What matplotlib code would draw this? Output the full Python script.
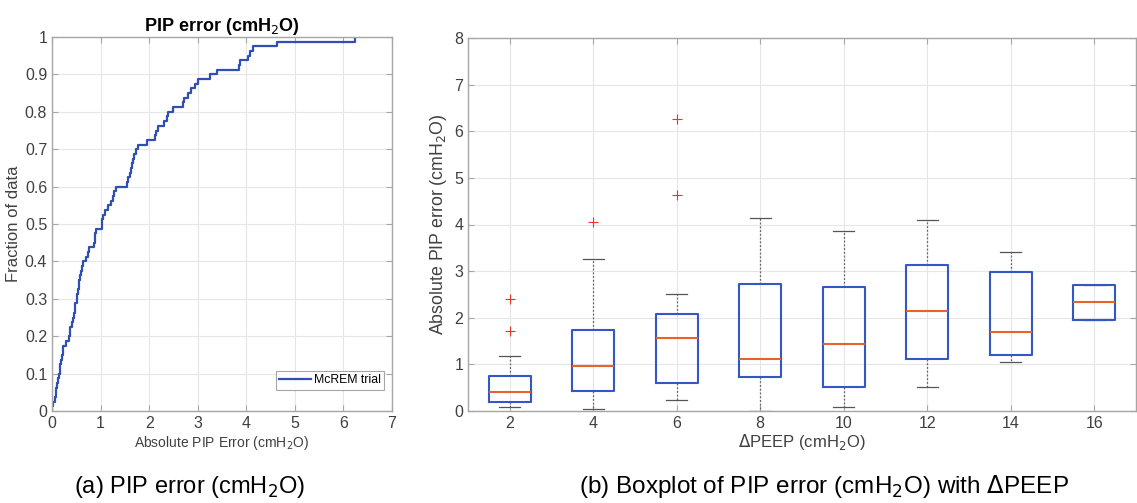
import numpy as np
import matplotlib
matplotlib.use("Agg")
import matplotlib.pyplot as plt

plt.rcParams['font.family'] = ['Liberation Sans', 'DejaVu Sans']

# sorted absolute PIP errors (cmH2O) for the ECDF, panel (a)
pip_errors = [
    0.01, 0.02, 0.07, 0.08, 0.08, 0.10, 0.13, 0.14, 0.16, 0.17,
    0.18, 0.21, 0.22, 0.23, 0.29, 0.36, 0.37, 0.38, 0.41, 0.43,
    0.45, 0.47, 0.48, 0.51, 0.52, 0.53, 0.55, 0.56, 0.58, 0.60,
    0.61, 0.63, 0.71, 0.75, 0.76, 0.87, 0.88, 0.89, 0.91, 1.02,
    1.03, 1.06, 1.09, 1.15, 1.22, 1.25, 1.28, 1.31, 1.55, 1.57,
    1.60, 1.62, 1.65, 1.67, 1.69, 1.72, 1.77, 1.95, 2.13, 2.15,
    2.19, 2.31, 2.36, 2.39, 2.49, 2.69, 2.72, 2.80, 2.86, 2.94,
    3.01, 3.25, 3.40, 3.84, 3.87, 4.04, 4.08, 4.14, 4.63, 6.24,
]

# boxplot summary per delta PEEP, panel (b)
dpeep = [2, 4, 6, 8, 10, 12, 14, 16]
whisker_lo = [0.08, 0.04, 0.24, 0.01, 0.08, 0.52, 1.05, 1.96]
q1 = [0.19, 0.42, 0.59, 0.72, 0.51, 1.12, 1.21, 1.96]
medians = [0.41, 0.97, 1.56, 1.11, 1.44, 2.15, 1.70, 2.33]
q3 = [0.76, 1.73, 2.09, 2.73, 2.67, 3.14, 2.99, 2.71]
whisker_hi = [1.18, 3.27, 2.51, 4.15, 3.86, 4.10, 3.42, 2.71]
outliers = [[1.71, 2.40], [4.05], [4.63, 6.27], [], [], [], [], []]

tick_col = '#404040'
grid_col = '#e6e6e6'
spine_col = '#a6a6a6'
line_blue = '#2f4fb5'
box_blue = '#3358c4'
med_orange = '#e8632b'

fig = plt.figure(figsize=(11.37, 5.03), dpi=100)
ax1 = fig.add_axes([52 / 1137, 1 - 411 / 503, 340 / 1137, 374 / 503])
ax2 = fig.add_axes([468 / 1137, 1 - 411 / 503, 668 / 1137, 373 / 503])


def style(ax):
    ax.grid(True, color=grid_col, linewidth=0.8)
    ax.set_axisbelow(True)
    for s in ax.spines.values():
        s.set_color(spine_col)
        s.set_linewidth(1.0)
    ax.tick_params(direction='in', length=4, width=0.8, colors=spine_col,
                   labelcolor=tick_col, labelsize=11.5, top=True, right=True)


# (a) ECDF
n = len(pip_errors)
xs = np.concatenate([[pip_errors[0]], pip_errors])
ys = np.concatenate([[0], np.arange(1, n + 1) / n])
style(ax1)
ax1.step(xs, ys, where='post', color=line_blue, linewidth=1.6, label='McREM trial')
ax1.set_xlim(0, 7)
ax1.set_ylim(0, 1)
ax1.set_xticks(range(8))
ax1.set_yticks(np.arange(0, 1.01, 0.1))
ax1.set_yticklabels(['0', '0.1', '0.2', '0.3', '0.4', '0.5', '0.6', '0.7', '0.8', '0.9', '1'])
ax1.set_xlabel('Absolute PIP Error (cmH$_2$O)', fontsize=10, color=tick_col, labelpad=2)
ax1.set_ylabel('Fraction of data', fontsize=12, color=tick_col, labelpad=3)
ax1.set_title('PIP error (cmH$_2$O)', fontsize=13, fontweight='bold', pad=4)
leg = ax1.legend(loc='lower right', fontsize=8.8, frameon=True, fancybox=False,
                 handlelength=2.6, handletextpad=0.2, borderpad=0.3,
                 bbox_to_anchor=(0.995, 0.04))
leg.get_frame().set_edgecolor('#909090')
leg.get_frame().set_linewidth(0.8)

# (b) boxplot
stats = []
for i in range(len(dpeep)):
    stats.append(dict(med=medians[i], q1=q1[i], q3=q3[i],
                      whislo=whisker_lo[i], whishi=whisker_hi[i],
                      fliers=outliers[i], label=str(dpeep[i])))
style(ax2)
ax2.bxp(stats, positions=range(1, len(dpeep) + 1), widths=0.5,
        boxprops=dict(color=box_blue, linewidth=1.5, zorder=3),
        medianprops=dict(color=med_orange, linewidth=1.5, zorder=4),
        whiskerprops=dict(color='#666666', linewidth=0.9, linestyle=(0, (1.5, 1.5)), zorder=2),
        capprops=dict(color='#555555', linewidth=0.9, zorder=2),
        capwidths=0.25,
        flierprops=dict(marker='+', markeredgecolor='#ee3030', markersize=7,
                        markeredgewidth=0.8, linestyle='none'))
ax2.set_xlim(0.5, len(dpeep) + 0.5)
ax2.set_ylim(0, 8)
ax2.set_yticks(range(9))
ax2.set_xlabel('$\\Delta$PEEP (cmH$_2$O)', fontsize=12, color=tick_col, labelpad=1)
ax2.set_ylabel('Absolute PIP error (cmH$_2$O)', fontsize=12.8, color=tick_col, labelpad=4)

# captions
fig.text(190 / 1137, 1 - 487 / 503, '(a) PIP error (cmH$_2$O)', fontsize=17,
         ha='center', va='center')
fig.text(824 / 1137, 1 - 487 / 503, '(b) Boxplot of PIP error (cmH$_2$O) with $\\Delta$PEEP',
         fontsize=17.5, ha='center', va='center')

fig.savefig('out.png', dpi=100)
